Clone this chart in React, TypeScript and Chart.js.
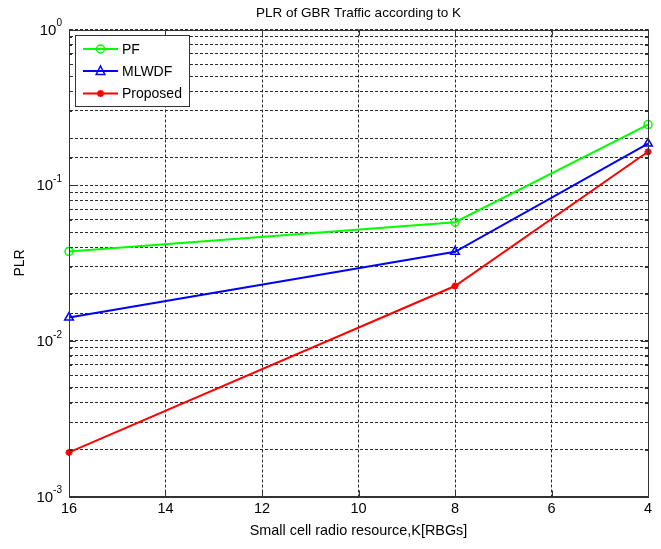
import React, { useEffect, useRef } from "react";
import { Chart, registerables } from "chart.js";

Chart.register(...registerables);

// ---- data ----
const kValues = [16, 8, 4];
const pfPLR = [0.0375, 0.0578, 0.245];
const mlwdfPLR = [0.0141, 0.0373, 0.185];
const proposedPLR = [0.00192, 0.0225, 0.164];
const seriesNames = ["PF", "MLWDF", "Proposed"];
const seriesColors = ["#00ff00", "#0000ff", "#ff0000"];
const seriesMarkers = ["circle", "triangle", "star"];
const xMin = 4;
const xMax = 16;
const xStep = 2;
const yMin = 0.001;
const yMax = 1;
const decadeBase = "10";
const chartTitle = "PLR of GBR Traffic according to K";
const xTitle = "Small cell radio resource,K[RBGs]";
const yTitle = "PLR";

const FONT = "'Liberation Sans', Arial, Helvetica, sans-serif";
const GRID = "#2a2a2a";

function isDecade(v: number) {
  const l = Math.log10(v);
  return Math.abs(l - Math.round(l)) < 1e-6;
}

function drawMarker(ctx: CanvasRenderingContext2D, style: string, x: number, y: number, color: string) {
  ctx.save();
  ctx.strokeStyle = color;
  ctx.fillStyle = color;
  ctx.lineWidth = 1.5;
  ctx.beginPath();
  if (style === "circle") {
    ctx.arc(x, y, 4, 0, Math.PI * 2);
    ctx.stroke();
  } else if (style === "triangle") {
    const r = 5;
    ctx.moveTo(x, y - r);
    ctx.lineTo(x + r * 0.866, y + r * 0.5 + 1);
    ctx.lineTo(x - r * 0.866, y + r * 0.5 + 1);
    ctx.closePath();
    ctx.stroke();
  } else {
    const r = 3.5;
    ctx.lineWidth = 2;
    for (let a = 0; a < 4; a++) {
      const ang = (a * Math.PI) / 4;
      ctx.moveTo(x - r * Math.cos(ang), y - r * Math.sin(ang));
      ctx.lineTo(x + r * Math.cos(ang), y + r * Math.sin(ang));
    }
    ctx.stroke();
  }
  ctx.restore();
}

const framePlugin = {
  id: "matlabFrame",
  afterDraw(chart: any) {
    const { ctx, chartArea } = chart;
    const { left, right, top, bottom } = chartArea;
    ctx.save();
    ctx.strokeStyle = "#333";
    ctx.lineWidth = 1;
    ctx.setLineDash([]);
    const ys = chart.scales.y;
    ys.ticks.forEach((t: any) => {
      const p = Math.round(ys.getPixelForValue(t.value)) + 0.5;
      const len = isDecade(t.value) ? 7 : 3;
      ctx.beginPath();
      ctx.moveTo(left, p);
      ctx.lineTo(left + len, p);
      ctx.moveTo(right, p);
      ctx.lineTo(right - len, p);
      ctx.stroke();
    });
    const xs = chart.scales.x;
    xs.ticks.forEach((t: any) => {
      const p = Math.round(xs.getPixelForValue(t.value)) + 0.5;
      ctx.beginPath();
      ctx.moveTo(p, bottom);
      ctx.lineTo(p, bottom - 6);
      ctx.moveTo(p, top);
      ctx.lineTo(p, top + 6);
      ctx.stroke();
    });
    ctx.strokeRect(
      Math.round(left) + 0.5,
      Math.round(top) + 0.5,
      Math.round(right - left),
      Math.round(bottom - top)
    );

    // y decade labels: 10 with superscript exponent
    ctx.fillStyle = "#000";
    ctx.textBaseline = "middle";
    ctx.textAlign = "left";
    ys.ticks.forEach((t: any) => {
      if (!isDecade(t.value)) return;
      const e = Math.round(Math.log10(t.value));
      const expText = String(e);
      const p = ys.getPixelForValue(t.value);
      ctx.font = `10px ${FONT}`;
      const ew = ctx.measureText(expText).width;
      ctx.font = `15px ${FONT}`;
      const bw = ctx.measureText(decadeBase).width;
      const xEnd = left - 7;
      const xStart = xEnd - ew - bw;
      ctx.fillText(decadeBase, xStart, p + 1);
      ctx.font = `10px ${FONT}`;
      ctx.fillText(expText, xStart + bw, p - 6);
    });

    // title
    ctx.fillStyle = "#000";
    ctx.font = `13.5px ${FONT}`;
    ctx.textAlign = "center";
    ctx.textBaseline = "middle";
    ctx.fillText(chartTitle, (left + right) / 2, 13);

    // legend
    const lx = 75.5, ly = 35.5, lw = 114, lh = 71;
    ctx.fillStyle = "#fff";
    ctx.fillRect(lx, ly, lw, lh);
    ctx.strokeStyle = "#333";
    ctx.lineWidth = 1;
    ctx.strokeRect(lx, ly, lw, lh);
    const rows = [49, 71, 93.5];
    chart.data.datasets.forEach((ds: any, i: number) => {
      const y = rows[i];
      ctx.strokeStyle = ds.borderColor;
      ctx.lineWidth = 2;
      ctx.beginPath();
      ctx.moveTo(83, y);
      ctx.lineTo(118, y);
      ctx.stroke();
      drawMarker(ctx, seriesMarkers[i], 100.5, y, ds.borderColor);
      ctx.fillStyle = "#000";
      ctx.font = `14px ${FONT}`;
      ctx.textAlign = "left";
      ctx.textBaseline = "middle";
      ctx.fillText(ds.label, 122, y + 1);
    });
    ctx.restore();
  },
};

export default function App() {
  const ref = useRef<HTMLCanvasElement | null>(null);

  useEffect(() => {
    if (!ref.current) return;
    const series = [pfPLR, mlwdfPLR, proposedPLR];
    const chart = new Chart(ref.current, {
      type: "line",
      data: {
        datasets: series.map((vals, i) => ({
          label: seriesNames[i],
          data: kValues.map((k, j) => ({ x: k, y: vals[j] })),
          borderColor: seriesColors[i],
          backgroundColor: seriesColors[i],
          borderWidth: 2,
          pointStyle: seriesMarkers[i] as any,
          pointRadius: seriesMarkers[i] === "star" ? 3.5 : seriesMarkers[i] === "triangle" ? 5 : 4,
          pointBorderWidth: seriesMarkers[i] === "star" ? 2 : 1.5,
          pointBackgroundColor: seriesMarkers[i] === "star" ? seriesColors[i] : "rgba(0,0,0,0)",
          pointBorderColor: seriesColors[i],
          tension: 0,
          fill: false,
          clip: false as any,
        })),
      },
      options: {
        animation: false,
        responsive: false,
        devicePixelRatio: 1,
        layout: { padding: { top: 29.5, right: 13, left: 0, bottom: 0 } },
        plugins: {
          legend: { display: false },
          title: { display: false },
          tooltip: { enabled: false },
        },
        scales: {
          x: {
            type: "linear",
            min: xMin,
            max: xMax,
            reverse: true,
            afterFit: (s: any) => {
              s.height = 52.5;
            },
            ticks: {
              stepSize: xStep,
              padding: 4,
              color: "#000",
              font: { family: FONT, size: 14.5 },
              maxRotation: 0,
              autoSkip: false,
            },
            grid: { color: GRID, lineWidth: 1, drawTicks: false },
            border: { display: true, color: "#333", width: 1, dash: [3, 2] },
            title: {
              display: true,
              text: xTitle,
              color: "#000",
              font: { family: FONT, size: 14.4 },
              padding: { top: 0, bottom: 9 },
            },
          },
          y: {
            type: "logarithmic",
            min: yMin,
            max: yMax,
            afterFit: (s: any) => {
              s.width = 69;
            },
            ticks: {
              autoSkip: false,
              padding: 7,
              color: "#000",
              font: { family: FONT, size: 14 },
              callback: () => "",
            },
            grid: { color: GRID, lineWidth: 1, drawTicks: false },
            border: { display: true, color: "#333", width: 1, dash: [3, 2] },
            title: {
              display: true,
              text: yTitle,
              color: "#000",
              font: { family: FONT, size: 14 },
              padding: { top: 12, bottom: 0 },
            },
          },
        },
      },
      plugins: [framePlugin],
    });
    return () => chart.destroy();
  }, []);

  return (
    <div style={{ position: "absolute", left: 0, top: 0, width: 661, height: 549, background: "#fff" }}>
      <canvas ref={ref} width={661} height={549} style={{ display: "block" }} />
    </div>
  );
}
